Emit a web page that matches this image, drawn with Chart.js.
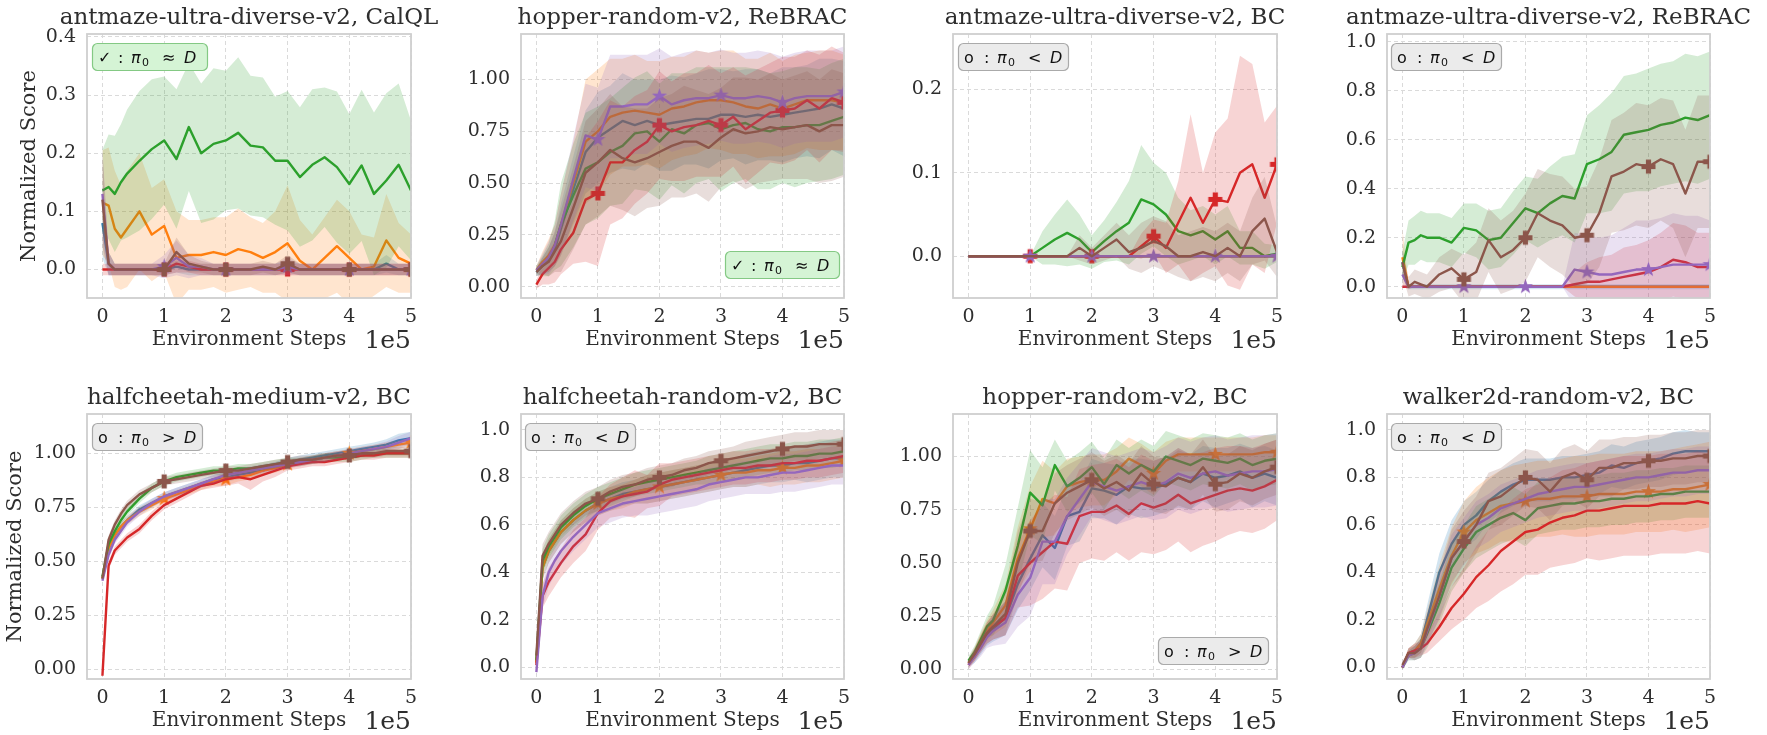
<!DOCTYPE html>
<html>
<head>
<meta charset="utf-8">
<script src="https://cdn.jsdelivr.net/npm/chart.js@4.4.0/dist/chart.umd.min.js"></script>
<style>
  body { margin: 0; background: #fff; width: 1767px; height: 735px; position: relative; overflow: hidden; }
  canvas { position: absolute; }
</style>
</head>
<body>
<script>
"use strict";

// x positions in units of 1e5 environment steps
const xs = [0, 0.1, 0.2, 0.3, 0.4, 0.6, 0.8, 1, 1.2, 1.4, 1.6, 1.8, 2, 2.2, 2.4, 2.6, 2.8, 3, 3.2, 3.4, 3.6, 3.8, 4, 4.2, 4.4, 4.6, 4.8, 5];
const xTicks = ["0", "1", "2", "3", "4", "5"];
const markIdx = [7, 12, 17, 22, 27];

const titles = [
  "antmaze-ultra-diverse-v2, CalQL",
  "hopper-random-v2, ReBRAC",
  "antmaze-ultra-diverse-v2, BC",
  "antmaze-ultra-diverse-v2, ReBRAC",
  "halfcheetah-medium-v2, BC",
  "halfcheetah-random-v2, BC",
  "hopper-random-v2, BC",
  "walker2d-random-v2, BC",
];

const yTicks1 = ["0.0", "0.1", "0.2", "0.3", "0.4"];
const yTicks2 = ["0.00", "0.25", "0.50", "0.75", "1.00"];
const yTicks3 = ["0.0", "0.1", "0.2"];
const yTicks4 = ["0.0", "0.2", "0.4", "0.6", "0.8", "1.0"];

// panel 1: antmaze CalQL
const p1Blue = [0.08,0.01,0,0,0, 0,0,0, 0.005,0,0,0,0, 0,0,0,0,0.005, 0,0,0,0,0, 0,0,0.01,0,0];
const p1BlueSd = [0.06,0.02,0.01,0.01,0.01, 0.01,0.01,0.01, 0.01,0.01,0.01,0.01,0.01, 0.01,0.01,0.01,0.01,0.01, 0.01,0.01,0.01,0.01,0.01, 0.01,0.01,0.015,0.01,0.01];
const p1Orange = [0.115,0.11,0.07,0.055,0.07, 0.1,0.06,0.075, 0.02,0.025,0.025,0.03,0.025, 0.035,0.03,0.02,0.03,0.045, 0.015,0,0.02,0.04,0.02, 0,0.005,0.05,0.02,0.01];
const p1OrangeSd = [0.09,0.1,0.1,0.09,0.1, 0.1,0.08,0.08, 0.08,0.06,0.06,0.06,0.065, 0.07,0.06,0.06,0.07,0.1, 0.07,0.06,0.07,0.08,0.08, 0.06,0.05,0.08,0.06,0.05];
const p1Green = [0.136,0.142,0.13,0.15,0.165, 0.187,0.207,0.222, 0.19,0.245,0.2,0.216,0.222, 0.235,0.213,0.21,0.187,0.187, 0.159,0.18,0.193,0.176,0.147, 0.179,0.13,0.153,0.18,0.136];
const p1GreenSd = [0.07,0.09,0.1,0.1,0.11, 0.12,0.12,0.11, 0.12,0.11,0.12,0.13,0.12, 0.13,0.12,0.12,0.11,0.12, 0.12,0.13,0.12,0.13,0.12, 0.13,0.14,0.15,0.14,0.12];
const p1Red = [0,0,0,0,0, 0,0,0, 0.01,0.005,0,0,0, 0,0,0,0,0, 0,0,0,0,0, 0,0,0,0,0];
const p1RedSd = [0.01,0.01,0.01,0.01,0.01, 0.01,0.01,0.01, 0.015,0.01,0.01,0.01,0.01, 0.01,0.01,0.01,0.01,0.01, 0.01,0.01,0.01,0.01,0.01, 0.01,0.01,0.01,0.01,0.01];
const p1Purple = [0.13,0.01,0,0,0, 0,0,0.005, 0.02,0.005,0.005,0,0, 0,0,0,0,0.005, 0,0,0,0,0, 0,0,0,0,0];
const p1PurpleSd = [0.08,0.02,0.01,0.01,0.01, 0.01,0.01,0.02, 0.03,0.02,0.015,0.01,0.01, 0.01,0.01,0.01,0.01,0.015, 0.01,0.01,0.01,0.01,0.01, 0.01,0.01,0.01,0.01,0.01];
const p1Brown = [0.12,0.01,0,0,0, 0,0,0, 0.03,0.01,0.005,0,0, 0,0,0.005,0,0.01, 0,0,0,0,0, 0,0,0,0,0];
const p1BrownSd = [0.08,0.02,0.01,0.01,0.01, 0.01,0.01,0.01, 0.025,0.015,0.01,0.01,0.01, 0.01,0.01,0.01,0.01,0.015, 0.01,0.01,0.01,0.01,0.01, 0.01,0.01,0.01,0.01,0.01];

// panel 2: hopper ReBRAC
const p2Blue = [0.07,0.1,0.13,0.18,0.28, 0.47,0.65,0.72, 0.76,0.8,0.78,0.8,0.78, 0.79,0.8,0.81,0.81,0.83, 0.83,0.82,0.83,0.82,0.83, 0.84,0.85,0.86,0.88,0.86];
const p2BlueSd = [0.02,0.04,0.06,0.08,0.12, 0.16,0.2,0.22, 0.21,0.23,0.22,0.2,0.22, 0.23,0.21,0.22,0.24,0.22, 0.21,0.23,0.22,0.21,0.23, 0.22,0.22,0.24,0.22,0.23];
const p2Orange = [0.08,0.12,0.15,0.2,0.3, 0.5,0.7,0.75, 0.82,0.84,0.85,0.84,0.83, 0.86,0.87,0.89,0.9,0.9, 0.89,0.87,0.86,0.88,0.86, 0.88,0.9,0.9,0.9,0.89];
const p2OrangeSd = [0.02,0.05,0.08,0.1,0.15, 0.2,0.3,0.3, 0.28,0.26,0.27,0.25,0.26, 0.25,0.24,0.25,0.23,0.24, 0.25,0.23,0.24,0.25,0.23, 0.24,0.23,0.24,0.24,0.23];
const p2Green = [0.08,0.1,0.13,0.2,0.3, 0.44,0.57,0.6, 0.65,0.68,0.74,0.75,0.7, 0.76,0.74,0.78,0.79,0.76, 0.78,0.79,0.76,0.75,0.77, 0.77,0.78,0.78,0.8,0.82];
const p2GreenSd = [0.02,0.05,0.08,0.12,0.2, 0.25,0.27,0.27, 0.26,0.28,0.27,0.29,0.28, 0.27,0.29,0.28,0.27,0.3, 0.28,0.27,0.29,0.28,0.27, 0.29,0.28,0.27,0.28,0.28];
const p2Red = [0.01,0.06,0.09,0.12,0.18, 0.26,0.42,0.45, 0.6,0.6,0.66,0.7,0.78, 0.75,0.77,0.78,0.8,0.78, 0.82,0.76,0.8,0.84,0.85, 0.86,0.9,0.86,0.91,0.89];
const p2RedSd = [0.02,0.05,0.08,0.1,0.12, 0.15,0.3,0.35, 0.3,0.27,0.26,0.25,0.26, 0.24,0.26,0.25,0.27,0.25, 0.24,0.26,0.25,0.24,0.26, 0.25,0.24,0.26,0.25,0.24];
const p2Purple = [0.08,0.11,0.14,0.2,0.3, 0.52,0.73,0.71, 0.87,0.87,0.88,0.88,0.92, 0.88,0.9,0.91,0.91,0.925, 0.91,0.91,0.92,0.91,0.89, 0.91,0.92,0.92,0.92,0.94];
const p2PurpleSd = [0.02,0.05,0.08,0.1,0.15, 0.2,0.25,0.25, 0.25,0.25,0.24,0.24,0.23, 0.23,0.23,0.23,0.22,0.22, 0.22,0.22,0.22,0.22,0.22, 0.22,0.22,0.22,0.22,0.22];
const p2Brown = [0.07,0.1,0.12,0.17,0.22, 0.38,0.55,0.6, 0.66,0.62,0.6,0.62,0.65, 0.68,0.7,0.7,0.67,0.72, 0.76,0.74,0.75,0.77,0.76, 0.77,0.78,0.75,0.78,0.78];
const p2BrownSd = [0.02,0.04,0.07,0.1,0.15, 0.2,0.25,0.26, 0.27,0.25,0.26,0.24,0.26, 0.25,0.27,0.25,0.26,0.24, 0.25,0.27,0.25,0.26,0.24, 0.25,0.26,0.25,0.27,0.25];

// panel 3: antmaze BC
const p3Blue = [0,0,0,0,0, 0,0,0, 0,0,0,0,0, 0,0,0,0,0, 0,0,0,0,0, 0,0,0,0,0];
const p3BlueSd = [0,0,0,0,0, 0,0,0, 0,0,0,0,0, 0,0,0,0,0, 0,0,0,0,0, 0,0,0,0,0];
const p3Orange = [0,0,0,0,0, 0,0,0, 0,0,0,0,0, 0,0,0,0,0, 0,0,0,0,0, 0,0,0,0,0];
const p3OrangeSd = [0,0,0,0,0, 0,0,0, 0,0,0,0,0, 0,0,0,0,0, 0,0,0,0,0, 0,0,0,0,0];
const p3Green = [0,0,0,0,0, 0,0,0, 0.01,0.02,0.028,0.02,0.005, 0.018,0.03,0.04,0.068,0.062, 0.05,0.03,0.025,0.03,0.02, 0.03,0.01,0.01,0,0.003];
const p3GreenSd = [0,0,0,0,0, 0,0,0, 0.02,0.03,0.04,0.03,0.02, 0.025,0.035,0.05,0.065,0.05, 0.05,0.04,0.03,0.03,0.03, 0.03,0.02,0.02,0.015,0.01];
const p3Red = [0,0,0,0,0, 0,0,0, 0,0,0,0,0, 0,0,0,0.012,0.024, 0.01,0.04,0.07,0.04,0.068, 0.065,0.1,0.11,0.07,0.11];
const p3RedSd = [0,0,0,0,0, 0,0,0, 0,0,0,0,0, 0,0,0,0.015,0.02, 0.03,0.05,0.1,0.06,0.08, 0.1,0.14,0.12,0.09,0.07];
const p3Purple = [0,0,0,0,0, 0,0,0, 0,0,0,0,0, 0,0,0,0,0, 0,0,0,0,0, 0,0,0,0,0];
const p3PurpleSd = [0,0,0,0,0, 0,0,0, 0,0,0,0,0, 0,0,0,0,0, 0,0,0,0,0, 0,0,0,0,0];
const p3Brown = [0,0,0,0,0, 0,0,0, 0,0,0,0.01,0, 0.01,0.02,0.005,0.01,0.018, 0.012,0,0,0.005,0, 0.01,0,0.03,0.045,0.005];
const p3BrownSd = [0,0,0,0,0, 0,0,0, 0,0,0,0.015,0.01, 0.015,0.02,0.02,0.03,0.03, 0.03,0.025,0.03,0.03,0.03, 0.03,0.03,0.04,0.05,0.03];

// panel 4: antmaze ReBRAC
const p4Blue = [0.1,0,0,0,0, 0,0,0, 0,0,0,0,0, 0,0,0,0,0, 0,0,0,0,0, 0,0,0,0,0];
const p4BlueSd = [0.06,0.01,0.01,0.01,0.01, 0.01,0.01,0.01, 0.01,0.01,0.01,0.01,0.01, 0.01,0.01,0.01,0.01,0.01, 0.01,0.01,0.01,0.01,0.01, 0.01,0.01,0.01,0.01,0.01];
const p4Orange = [0.12,0,0,0,0, 0,0,0, 0,0,0,0,0, 0,0,0,0,0, 0,0,0,0,0, 0,0,0,0,0];
const p4OrangeSd = [0.12,0.01,0,0,0, 0,0,0, 0,0,0,0,0, 0,0,0,0,0, 0,0,0,0,0, 0,0,0,0,0];
const p4Green = [0.08,0.18,0.19,0.21,0.2, 0.2,0.18,0.24, 0.23,0.19,0.2,0.26,0.32, 0.3,0.34,0.37,0.36,0.5, 0.52,0.55,0.62,0.63,0.64, 0.66,0.67,0.69,0.68,0.7];
const p4GreenSd = [0.06,0.09,0.1,0.1,0.1, 0.1,0.1,0.1, 0.11,0.12,0.12,0.13,0.13, 0.14,0.15,0.16,0.18,0.2, 0.22,0.24,0.24,0.24,0.25, 0.25,0.25,0.26,0.26,0.26];
const p4Red = [0,0,0,0,0, 0,0,0, 0,0,0,0,0, 0,0,0,0.01,0.02, 0.02,0.03,0.04,0.05,0.06, 0.08,0.11,0.1,0.08,0.08];
const p4RedSd = [0,0,0,0,0, 0,0,0, 0,0,0,0,0, 0,0,0,0.05,0.08, 0.1,0.1,0.12,0.12,0.13, 0.14,0.15,0.15,0.14,0.14];
const p4Purple = [0.05,0,0,0,0, 0,0,0, 0,0,0,0,0, 0,0,0,0.07,0.06, 0.05,0.05,0.06,0.07,0.07, 0.08,0.09,0.09,0.09,0.09];
const p4PurpleSd = [0.05,0.01,0,0,0, 0,0,0, 0,0,0,0,0, 0,0,0,0.15,0.15, 0.15,0.16,0.18,0.2,0.2, 0.2,0.21,0.2,0.2,0.18];
const p4Brown = [0.1,0,0.02,0.01,0, 0.05,0.075,0.03, 0.06,0.19,0.12,0.15,0.2, 0.3,0.27,0.25,0.2,0.21, 0.3,0.45,0.47,0.5,0.49, 0.52,0.5,0.38,0.51,0.51];
const p4BrownSd = [0.05,0.04,0.05,0.05,0.05, 0.07,0.08,0.1, 0.12,0.13,0.15,0.16,0.18, 0.18,0.19,0.2,0.2,0.2, 0.22,0.23,0.24,0.25,0.25, 0.25,0.26,0.26,0.27,0.27];

// panel 5: halfcheetah-medium BC
const p5Blue = [0.42,0.56,0.62,0.66,0.69, 0.74,0.77,0.8, 0.82,0.84,0.86,0.88,0.89, 0.9,0.91,0.92,0.94,0.96, 0.97,0.98,0.99,1,1.01, 1.02,1.03,1.04,1.06,1.07];
const p5BlueSd = [0.01,0.02,0.02,0.02,0.02, 0.02,0.02,0.02, 0.02,0.02,0.02,0.02,0.02, 0.02,0.02,0.02,0.02,0.02, 0.02,0.02,0.02,0.02,0.02, 0.02,0.02,0.025,0.03,0.03];
const p5Orange = [0.42,0.56,0.62,0.66,0.69, 0.73,0.76,0.79, 0.81,0.83,0.85,0.87,0.88, 0.89,0.9,0.92,0.93,0.95, 0.96,0.97,0.98,0.99,1, 1.01,1.02,1.03,1.04,1.05];
const p5OrangeSd = [0.01,0.02,0.02,0.02,0.02, 0.02,0.02,0.02, 0.02,0.02,0.02,0.02,0.03, 0.02,0.02,0.02,0.02,0.02, 0.02,0.02,0.02,0.02,0.02, 0.02,0.02,0.02,0.02,0.02];
const p5Green = [0.43,0.58,0.64,0.69,0.73, 0.79,0.84,0.87, 0.89,0.9,0.91,0.92,0.92, 0.93,0.93,0.94,0.95,0.96, 0.96,0.97,0.98,0.98,0.98, 0.99,1,1,1,1];
const p5GreenSd = [0.01,0.02,0.02,0.02,0.02, 0.02,0.02,0.02, 0.02,0.02,0.02,0.02,0.02, 0.02,0.02,0.02,0.02,0.02, 0.02,0.02,0.02,0.02,0.02, 0.02,0.02,0.02,0.02,0.02];
const p5Red = [-0.03,0.48,0.55,0.58,0.61, 0.65,0.71,0.76, 0.79,0.82,0.85,0.86,0.88, 0.89,0.88,0.9,0.92,0.94, 0.95,0.96,0.96,0.97,0.98, 0.99,0.99,1,1,1];
const p5RedSd = [0.01,0.02,0.02,0.02,0.02, 0.02,0.02,0.02, 0.02,0.02,0.02,0.02,0.03, 0.03,0.05,0.03,0.03,0.02, 0.02,0.02,0.02,0.02,0.02, 0.02,0.02,0.02,0.02,0.02];
const p5Purple = [0.41,0.53,0.6,0.64,0.68, 0.73,0.77,0.8, 0.82,0.84,0.86,0.88,0.9, 0.91,0.92,0.93,0.94,0.95, 0.96,0.97,0.98,0.99,1, 1.01,1.02,1.03,1.05,1.07];
const p5PurpleSd = [0.01,0.02,0.02,0.02,0.02, 0.02,0.02,0.02, 0.02,0.02,0.02,0.02,0.02, 0.02,0.02,0.02,0.02,0.02, 0.02,0.02,0.02,0.02,0.02, 0.02,0.02,0.025,0.03,0.03];
const p5Brown = [0.42,0.6,0.67,0.72,0.76, 0.81,0.84,0.87, 0.88,0.89,0.9,0.91,0.92, 0.92,0.93,0.94,0.95,0.96, 0.97,0.97,0.98,0.99,0.99, 1,1,1.01,1.01,1.01];
const p5BrownSd = [0.01,0.02,0.02,0.02,0.02, 0.02,0.02,0.02, 0.02,0.02,0.02,0.02,0.02, 0.02,0.02,0.02,0.02,0.02, 0.02,0.02,0.02,0.02,0.02, 0.02,0.02,0.02,0.02,0.02];

// panel 6: halfcheetah-random BC
const p6Blue = [0.02,0.42,0.49,0.53,0.57, 0.62,0.66,0.69, 0.71,0.73,0.74,0.75,0.76, 0.77,0.78,0.79,0.8,0.81, 0.82,0.83,0.84,0.85,0.85, 0.86,0.86,0.87,0.88,0.88];
const p6BlueSd = [0.02,0.05,0.05,0.05,0.05, 0.05,0.05,0.05, 0.05,0.05,0.05,0.06,0.06, 0.06,0.06,0.06,0.06,0.06, 0.06,0.07,0.07,0.07,0.07, 0.07,0.08,0.08,0.08,0.08];
const p6Orange = [0.02,0.42,0.49,0.53,0.57, 0.62,0.66,0.69, 0.71,0.72,0.74,0.75,0.76, 0.77,0.78,0.79,0.8,0.81, 0.82,0.82,0.83,0.83,0.84, 0.84,0.85,0.85,0.86,0.87];
const p6OrangeSd = [0.02,0.05,0.05,0.05,0.05, 0.05,0.05,0.05, 0.05,0.05,0.05,0.06,0.06, 0.06,0.06,0.06,0.06,0.06, 0.06,0.06,0.06,0.07,0.07, 0.07,0.07,0.07,0.07,0.07];
const p6Green = [0.03,0.45,0.51,0.55,0.59, 0.64,0.68,0.71, 0.73,0.75,0.77,0.78,0.79, 0.8,0.81,0.82,0.83,0.84, 0.85,0.86,0.87,0.88,0.88, 0.89,0.89,0.9,0.9,0.91];
const p6GreenSd = [0.02,0.05,0.05,0.05,0.05, 0.05,0.05,0.05, 0.05,0.05,0.05,0.05,0.05, 0.05,0.05,0.05,0.06,0.06, 0.06,0.06,0.06,0.06,0.06, 0.06,0.06,0.06,0.06,0.06];
const p6Red = [0.01,0.3,0.36,0.4,0.44, 0.51,0.56,0.65, 0.7,0.72,0.73,0.74,0.77, 0.79,0.8,0.81,0.82,0.83, 0.84,0.84,0.85,0.85,0.86, 0.86,0.87,0.87,0.88,0.89];
const p6RedSd = [0.02,0.05,0.06,0.06,0.06, 0.07,0.07,0.07, 0.07,0.08,0.1,0.07,0.09, 0.07,0.07,0.07,0.07,0.07, 0.07,0.07,0.07,0.07,0.07, 0.07,0.07,0.07,0.07,0.07];
const p6Purple = [-0.02,0.3,0.4,0.45,0.49, 0.55,0.6,0.65, 0.67,0.69,0.7,0.71,0.72, 0.73,0.74,0.75,0.77,0.78, 0.79,0.8,0.8,0.81,0.82, 0.82,0.83,0.84,0.85,0.85];
const p6PurpleSd = [0.02,0.05,0.06,0.06,0.06, 0.06,0.06,0.06, 0.06,0.06,0.06,0.07,0.07, 0.07,0.07,0.07,0.07,0.07, 0.07,0.07,0.07,0.08,0.08, 0.08,0.08,0.08,0.08,0.08];
const p6Brown = [0.05,0.47,0.52,0.56,0.6, 0.65,0.69,0.71, 0.74,0.76,0.77,0.79,0.8, 0.81,0.83,0.84,0.86,0.87, 0.88,0.89,0.9,0.91,0.92, 0.93,0.93,0.94,0.94,0.94];
const p6BrownSd = [0.02,0.05,0.05,0.05,0.05, 0.05,0.05,0.05, 0.05,0.05,0.05,0.05,0.05, 0.05,0.05,0.05,0.05,0.05, 0.05,0.06,0.06,0.06,0.06, 0.06,0.06,0.06,0.06,0.06];

// panel 7: hopper BC
const p7Blue = [0.03,0.06,0.11,0.16,0.19, 0.24,0.4,0.52, 0.63,0.57,0.72,0.74,0.85, 0.84,0.82,0.86,0.85,0.85, 0.87,0.9,0.88,0.92,0.9, 0.91,0.93,0.9,0.92,0.9];
const p7BlueSd = [0.02,0.03,0.04,0.05,0.06, 0.08,0.12,0.15, 0.15,0.15,0.14,0.14,0.14, 0.13,0.14,0.13,0.14,0.13, 0.13,0.14,0.13,0.13,0.14, 0.13,0.13,0.14,0.13,0.13];
const p7Orange = [0.03,0.07,0.13,0.18,0.22, 0.3,0.52,0.66, 0.8,0.78,0.86,0.88,0.89, 0.89,0.93,0.99,0.96,0.92, 0.98,1.01,1.01,1.01,1.01, 1.01,1.01,1.01,1.02,1.02];
const p7OrangeSd = [0.02,0.03,0.04,0.05,0.06, 0.1,0.15,0.2, 0.18,0.15,0.13,0.12,0.12, 0.12,0.11,0.1,0.1,0.1, 0.09,0.08,0.08,0.08,0.08, 0.08,0.08,0.08,0.08,0.08];
const p7Green = [0.04,0.08,0.14,0.2,0.23, 0.37,0.58,0.83, 0.77,0.96,0.86,0.9,0.95, 0.87,0.96,0.92,0.96,0.93, 1,0.98,0.96,0.99,0.98, 0.97,0.99,0.96,0.98,0.99];
const p7GreenSd = [0.02,0.03,0.04,0.05,0.07, 0.12,0.18,0.2, 0.18,0.12,0.12,0.12,0.12, 0.12,0.12,0.12,0.12,0.12, 0.12,0.12,0.12,0.12,0.12, 0.12,0.12,0.12,0.12,0.12];
const p7Red = [0.02,0.07,0.12,0.17,0.2, 0.24,0.44,0.5, 0.55,0.6,0.59,0.72,0.74, 0.74,0.77,0.73,0.78,0.76, 0.78,0.82,0.78,0.8,0.82, 0.84,0.85,0.84,0.86,0.89];
const p7RedSd = [0.02,0.03,0.04,0.05,0.06, 0.08,0.15,0.2, 0.22,0.22,0.22,0.22,0.22, 0.23,0.22,0.22,0.23,0.22, 0.22,0.22,0.23,0.22,0.22, 0.21,0.2,0.2,0.2,0.19];
const p7Purple = [0.02,0.06,0.1,0.15,0.18, 0.22,0.35,0.43, 0.6,0.6,0.72,0.8,0.88, 0.86,0.84,0.86,0.88,0.86, 0.88,0.92,0.9,0.92,0.93, 0.91,0.92,0.93,0.93,0.94];
const p7PurpleSd = [0.02,0.03,0.04,0.05,0.07, 0.1,0.15,0.18, 0.2,0.2,0.18,0.17,0.16, 0.16,0.16,0.16,0.16,0.16, 0.17,0.17,0.17,0.17,0.17, 0.17,0.17,0.17,0.17,0.17];
const p7Brown = [0.03,0.07,0.12,0.17,0.2, 0.26,0.5,0.65, 0.65,0.78,0.83,0.86,0.89, 0.85,0.88,0.84,0.92,0.87, 0.86,0.9,0.88,0.95,0.87, 0.88,0.92,0.9,0.93,0.95];
const p7BrownSd = [0.02,0.03,0.04,0.05,0.06, 0.1,0.15,0.15, 0.14,0.14,0.13,0.13,0.13, 0.13,0.13,0.13,0.13,0.13, 0.13,0.13,0.13,0.13,0.13, 0.13,0.13,0.13,0.13,0.13];

// panel 8: walker2d BC
const p8Blue = [0,0.06,0.07,0.1,0.2, 0.4,0.52,0.6, 0.64,0.7,0.74,0.77,0.79, 0.79,0.79,0.8,0.8,0.81, 0.82,0.85,0.84,0.86,0.87, 0.88,0.9,0.91,0.91,0.91];
const p8BlueSd = [0.01,0.02,0.03,0.04,0.06, 0.08,0.1,0.1, 0.1,0.09,0.09,0.09,0.09, 0.09,0.09,0.09,0.09,0.09, 0.09,0.09,0.09,0.09,0.09, 0.09,0.09,0.09,0.08,0.08];
const p8Orange = [0,0.06,0.07,0.1,0.18, 0.33,0.47,0.57, 0.62,0.65,0.68,0.69,0.7, 0.71,0.71,0.72,0.72,0.72, 0.73,0.73,0.73,0.74,0.74, 0.74,0.75,0.75,0.76,0.77];
const p8OrangeSd = [0.01,0.02,0.03,0.04,0.06, 0.1,0.12,0.13, 0.14,0.15,0.15,0.16,0.16, 0.16,0.16,0.16,0.17,0.17, 0.17,0.17,0.17,0.17,0.17, 0.17,0.17,0.18,0.18,0.18];
const p8Green = [0,0.05,0.06,0.08,0.14, 0.27,0.42,0.5, 0.57,0.6,0.63,0.65,0.62, 0.67,0.68,0.69,0.69,0.7, 0.7,0.71,0.71,0.72,0.72, 0.73,0.73,0.74,0.74,0.74];
const p8GreenSd = [0.01,0.02,0.03,0.04,0.06, 0.09,0.1,0.1, 0.11,0.11,0.11,0.11,0.11, 0.11,0.11,0.11,0.11,0.11, 0.11,0.11,0.11,0.11,0.11, 0.11,0.11,0.11,0.11,0.11];
const p8Red = [0,0.06,0.07,0.08,0.1, 0.17,0.25,0.31, 0.38,0.43,0.49,0.53,0.57, 0.58,0.61,0.63,0.64,0.66, 0.66,0.67,0.68,0.68,0.68, 0.69,0.69,0.69,0.7,0.69];
const p8RedSd = [0.01,0.02,0.03,0.03,0.04, 0.06,0.09,0.11, 0.13,0.15,0.17,0.18,0.18, 0.19,0.19,0.2,0.2,0.2, 0.21,0.21,0.21,0.21,0.21, 0.21,0.21,0.21,0.21,0.21];
const p8Purple = [0,0.05,0.06,0.08,0.15, 0.3,0.46,0.53, 0.6,0.63,0.67,0.69,0.71, 0.73,0.74,0.75,0.76,0.76, 0.77,0.78,0.79,0.8,0.8, 0.81,0.82,0.82,0.83,0.83];
const p8PurpleSd = [0.01,0.02,0.03,0.04,0.06, 0.09,0.1,0.1, 0.1,0.1,0.1,0.1,0.1, 0.1,0.1,0.1,0.1,0.1, 0.1,0.1,0.1,0.1,0.1, 0.1,0.1,0.1,0.1,0.1];
const p8Brown = [0.01,0.06,0.06,0.08,0.16, 0.3,0.46,0.53, 0.6,0.7,0.72,0.76,0.8, 0.79,0.74,0.8,0.82,0.79, 0.84,0.84,0.86,0.86,0.87, 0.87,0.88,0.88,0.89,0.89];
const p8BrownSd = [0.01,0.02,0.03,0.04,0.06, 0.1,0.12,0.13, 0.12,0.12,0.12,0.12,0.12, 0.12,0.12,0.12,0.12,0.12, 0.12,0.12,0.11,0.11,0.11, 0.11,0.11,0.11,0.11,0.11];

// ---- styling / layout ----
const colors = ["#1f77b4", "#ff7f0e", "#2ca02c", "#d62728", "#9467bd", "#8c564b"];
const markerShapes = [null, "star", null, "plus", "star", "plus"];
const colLeft = [87, 521, 953, 1387];
const colRight = [411, 844, 1277, 1710];
const rowTop = [34, 414];
const rowBottom = [298, 679];
const padL = 87, padT = 34, padR = 56, padB = 56;
const serif = '"DejaVu Serif", serif';
const textColor = "#2e2e2e";

const panels = [
  { yMin: -0.049, yMax: 0.405, ticks: yTicks1, badge: "approx", box: [92, 43, 115, 27], marked: [3, 4, 5],
    means: [p1Blue, p1Orange, p1Green, p1Red, p1Purple, p1Brown], sds: [p1BlueSd, p1OrangeSd, p1GreenSd, p1RedSd, p1PurpleSd, p1BrownSd] },
  { yMin: -0.055, yMax: 1.22, ticks: yTicks2, badge: "approx", box: [725, 251, 114, 27], marked: [3, 4],
    means: [p2Blue, p2Orange, p2Green, p2Red, p2Purple, p2Brown], sds: [p2BlueSd, p2OrangeSd, p2GreenSd, p2RedSd, p2PurpleSd, p2BrownSd] },
  { yMin: -0.05, yMax: 0.266, ticks: yTicks3, badge: "less", box: [958, 43, 110, 27], marked: [3, 4],
    means: [p3Blue, p3Orange, p3Green, p3Red, p3Purple, p3Brown], sds: [p3BlueSd, p3OrangeSd, p3GreenSd, p3RedSd, p3PurpleSd, p3BrownSd] },
  { yMin: -0.046, yMax: 1.031, ticks: yTicks4, badge: "less", box: [1391, 43, 110, 27], marked: [4, 5],
    means: [p4Blue, p4Orange, p4Green, p4Red, p4Purple, p4Brown], sds: [p4BlueSd, p4OrangeSd, p4GreenSd, p4RedSd, p4PurpleSd, p4BrownSd] },
  { yMin: -0.045, yMax: 1.182, ticks: yTicks2, badge: "greater", box: [92, 423, 110, 27], marked: [1, 5],
    means: [p5Blue, p5Orange, p5Green, p5Red, p5Purple, p5Brown], sds: [p5BlueSd, p5OrangeSd, p5GreenSd, p5RedSd, p5PurpleSd, p5BrownSd] },
  { yMin: -0.049, yMax: 1.067, ticks: yTicks4, badge: "less", box: [525, 423, 110, 27], marked: [1, 5],
    means: [p6Blue, p6Orange, p6Green, p6Red, p6Purple, p6Brown], sds: [p6BlueSd, p6OrangeSd, p6GreenSd, p6RedSd, p6PurpleSd, p6BrownSd] },
  { yMin: -0.046, yMax: 1.2, ticks: yTicks2, badge: "greater", box: [1158, 637, 110, 27], marked: [1, 5],
    means: [p7Blue, p7Orange, p7Green, p7Red, p7Purple, p7Brown], sds: [p7BlueSd, p7OrangeSd, p7GreenSd, p7RedSd, p7PurpleSd, p7BrownSd] },
  { yMin: -0.049, yMax: 1.067, ticks: yTicks4, badge: "less", box: [1391, 423, 110, 27], marked: [1, 5],
    means: [p8Blue, p8Orange, p8Green, p8Red, p8Purple, p8Brown], sds: [p8BlueSd, p8OrangeSd, p8GreenSd, p8RedSd, p8PurpleSd, p8BrownSd] },
];

const withAlpha = (hex, a) => {
  const n = parseInt(hex.slice(1), 16);
  return `rgba(${n >> 16},${(n >> 8) & 255},${n & 255},${a})`;
};

const makeMarker = (shape, color) => {
  const c = document.createElement("canvas");
  c.width = 17;
  c.height = 17;
  const g = c.getContext("2d");
  g.translate(8.5, 8.5);
  g.fillStyle = color;
  g.beginPath();
  if (shape === "plus") {
    const a = 2.6, b = 7;
    const pts = [[-a,-b],[a,-b],[a,-a],[b,-a],[b,a],[a,a],[a,b],[-a,b],[-a,a],[-b,a],[-b,-a],[-a,-a]];
    pts.forEach(([x, y], i) => (i ? g.lineTo(x, y) : g.moveTo(x, y)));
  } else {
    for (let i = 0; i < 10; i++) {
      const r = i % 2 ? 3.2 : 8;
      const ang = -Math.PI / 2 + (i * Math.PI) / 5;
      const x = r * Math.cos(ang), y = r * Math.sin(ang);
      i ? g.lineTo(x, y) : g.moveTo(x, y);
    }
  }
  g.closePath();
  g.fill();
  return c;
};

const drawBadge = (ctx, kind, box, ox, oy) => {
  const [bx, by, bw, bh] = box;
  const x = bx - ox, y = by - oy;
  const ok = kind === "approx";
  ctx.save();
  ctx.beginPath();
  ctx.roundRect(x + 0.5, y + 0.5, bw, bh, 5);
  ctx.fillStyle = ok ? "#d5f4d5" : "#ebebeb";
  ctx.fill();
  ctx.lineWidth = 1.2;
  ctx.strokeStyle = ok ? "#84c984" : "#aaaaaa";
  ctx.stroke();
  const base = y + bh / 2 + 6;
  ctx.fillStyle = "#111";
  ctx.textAlign = "left";
  ctx.textBaseline = "alphabetic";
  ctx.font = '16px "DejaVu Sans"';
  ctx.fillText(ok ? "✓" : "o", x + 6, base);
  ctx.fillText(":", x + 26, base);
  ctx.font = 'italic 16px "DejaVu Sans"';
  ctx.fillText("π", x + 39, base);
  ctx.font = '11px "DejaVu Sans"';
  ctx.fillText("0", x + 50, base + 3);
  ctx.font = '16px "DejaVu Sans"';
  ctx.fillText(ok ? "≈" : kind === "less" ? "<" : ">", x + 70, base);
  ctx.font = 'italic 16px "DejaVu Sans"';
  ctx.fillText("D", x + 92, base);
  ctx.restore();
};

const decor = (p, title, row, col, ox, oy) => ({
  id: "decor",
  afterDatasetsDraw(chart) {
    const { ctx, chartArea: a } = chart;
    ctx.save();
    ctx.strokeStyle = "#cfcfcf";
    ctx.lineWidth = 1.8;
    ctx.strokeRect(a.left, a.top, a.right - a.left, a.bottom - a.top);
    ctx.restore();
    drawBadge(ctx, p.badge, p.box, ox, oy);
  },
  afterDraw(chart) {
    const { ctx, chartArea: a } = chart;
    const cx = (a.left + a.right) / 2;
    ctx.save();
    ctx.fillStyle = textColor;
    ctx.textBaseline = "middle";
    ctx.textAlign = "center";
    ctx.font = `23px ${serif}`;
    ctx.fillText(title, cx, a.top - 16);
    ctx.font = `20px ${serif}`;
    ctx.fillText("Environment Steps", cx, a.bottom + 42);
    ctx.textAlign = "right";
    ctx.font = `25px ${serif}`;
    ctx.fillText("1e5", a.right, a.bottom + 43);
    if (col === 0) {
      ctx.translate((row === 0 ? 30 : 16) - ox, (a.top + a.bottom) / 2);
      ctx.rotate(-Math.PI / 2);
      ctx.textAlign = "center";
      ctx.font = `21px ${serif}`;
      ctx.fillText("Normalized Score", 0, 0);
    }
    ctx.restore();
  },
});

const buildDatasets = (p) => {
  const sets = [];
  colors.forEach((color, s) => {
    const mean = p.means[s], sd = p.sds[s];
    sets.push({
      data: xs.map((x, i) => ({ x, y: mean[i] + sd[i] })),
      fill: "+1",
      backgroundColor: withAlpha(color, 0.2),
      borderColor: "rgba(0,0,0,0)",
      borderWidth: 0,
      pointRadius: 0,
    });
    sets.push({
      data: xs.map((x, i) => ({ x, y: mean[i] - sd[i] })),
      fill: false,
      borderColor: "rgba(0,0,0,0)",
      borderWidth: 0,
      pointRadius: 0,
    });
    const shape = p.marked.includes(s) ? markerShapes[s] : null;
    sets.push({
      data: xs.map((x, i) => ({ x, y: mean[i] })),
      fill: false,
      borderColor: color,
      borderWidth: 2.4,
      borderJoinStyle: "round",
      pointStyle: shape ? makeMarker(shape, color) : "circle",
      pointRadius: (c) => (shape && markIdx.includes(c.dataIndex) ? 6 : 0),
    });
  });
  // matplotlib draws later series on top: highest order is drawn first
  sets.forEach((d, k) => (d.order = 1000 - k));
  return sets;
};

panels.forEach((p, i) => {
  const col = i % 4, row = Math.floor(i / 4);
  const L = colLeft[col], R = colRight[col], T = rowTop[row], B = rowBottom[row];
  const ox = L - padL, oy = T - padT;
  const cv = document.createElement("canvas");
  cv.width = R - L + padL + padR;
  cv.height = B - T + padT + padB;
  cv.style.left = ox + "px";
  cv.style.top = oy + "px";
  cv.style.width = cv.width + "px";
  cv.style.height = cv.height + "px";
  document.body.appendChild(cv);

  new Chart(cv, {
    type: "line",
    data: { datasets: buildDatasets(p) },
    options: {
      responsive: false,
      animation: false,
      events: [],
      devicePixelRatio: 1,
      layout: { padding: { left: 0, top: padT, right: padR, bottom: 0 } },
      plugins: { legend: { display: false }, tooltip: { enabled: false } },
      elements: { line: { tension: 0 } },
      scales: {
        x: {
          type: "linear",
          min: -0.25,
          max: 5,
          afterBuildTicks: (s) => { s.ticks = xTicks.map((t) => ({ value: parseFloat(t) })); },
          afterFit: (s) => { s.height = padB; },
          grid: { color: "#dadada", lineWidth: 1, drawTicks: false },
          border: { display: false, dash: [4, 3] },
          ticks: { autoSkip: false, maxRotation: 0, padding: 8, color: textColor,
                   font: { family: serif, size: 19 }, callback: (v, k) => xTicks[k] },
        },
        y: {
          type: "linear",
          min: p.yMin,
          max: p.yMax,
          afterBuildTicks: (s) => { s.ticks = p.ticks.map((t) => ({ value: parseFloat(t) })); },
          afterFit: (s) => { s.width = padL; },
          grid: { color: "#dadada", lineWidth: 1, drawTicks: false },
          border: { display: false, dash: [4, 3] },
          ticks: { autoSkip: false, padding: 11, color: textColor,
                   font: { family: serif, size: 19 }, callback: (v, k) => p.ticks[k] },
        },
      },
    },
    plugins: [decor(p, titles[i], row, col, ox, oy)],
  });
});
</script>
</body>
</html>
